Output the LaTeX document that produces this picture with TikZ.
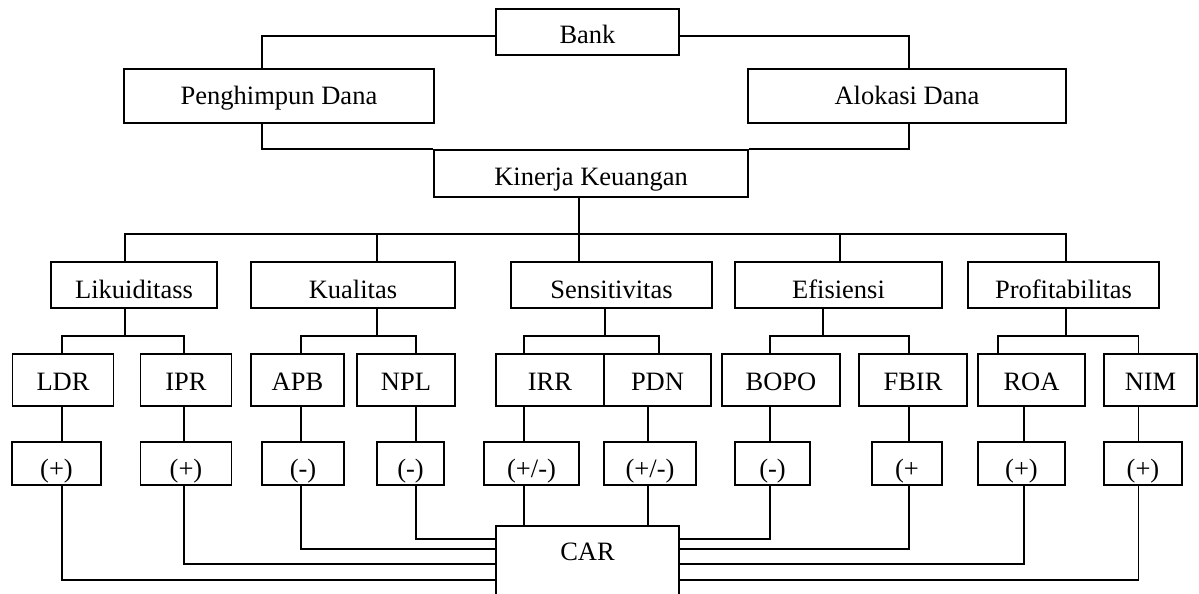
\documentclass[tikz,border=0pt]{standalone}
\usepackage{fontspec}
\setmainfont{Liberation Serif}
\tikzset{
  box/.style={draw, inner sep=0pt, text depth=0pt},
  topbox/.style={box, minimum height=54pt, text height=16pt},
  catbox/.style={box, minimum height=46pt, text height=26pt},
  indbox/.style={box, minimum height=52pt, text height=20pt},
  sgnbox/.style={box, minimum height=43pt, text height=27pt}
}
\begin{document}
\begin{tikzpicture}[x=1pt, y=-1pt, line width=1.8pt, font=\fontsize{26.5}{30}\selectfont]
            \useasboundingbox (0,0) rectangle (1199,594);
            \node[box, minimum width=183pt, minimum height=46pt, text height=24pt] (bank) at (587.5,32) {Bank};
            \node[topbox, minimum width=310pt] (peng) at (279,96) {Penghimpun Dana};
            \node[topbox, minimum width=318pt] (alok) at (907,96) {Alokasi Dana};
            \node[box, minimum width=314pt, minimum height=47pt, text height=23pt] (kin) at (591,173.5) {Kinerja Keuangan};
            \draw ([yshift=-4pt]bank.west) -| ([xshift=-17pt]peng.north);
            \draw ([yshift=-4pt]bank.east) -| ([xshift=2pt]alok.north);
            \draw ([xshift=-17pt]peng.south) |- (kin.north west);
            \draw ([xshift=2pt]alok.south) |- (kin.north east);
            % kelompok rasio
            \node[catbox, minimum width=166pt] (lik) at (134,285) {Likuiditass};
            \node[catbox, minimum width=204pt] (kual) at (353,285) {Kualitas};
            \node[catbox, minimum width=201pt] (sens) at (611.5,285) {Sensitivitas};
            \node[catbox, minimum width=207pt] (efis) at (838.5,285) {Efisiensi};
            \node[catbox, minimum width=191pt] (prof) at (1063.5,285) {Profitabilitas};
            \draw ([xshift=-12pt]kin.south) -- ++(0,36) coordinate (bus);
            \foreach \n/\dx in {lik/-9, kual/24, sens/-32.5, efis/1.5, prof/2.5}
                \draw ([xshift=\dx pt]\n.north) |- (bus);
            % rasio
            \node[indbox, minimum width=101pt] (ldr) at (63,380) {LDR};
            \node[indbox, minimum width=91pt] (ipr) at (186,380) {IPR};
            \node[indbox, minimum width=93pt] (apb) at (297.5,380) {APB};
            \node[indbox, minimum width=98pt] (npl) at (406,380) {NPL};
            \node[indbox, minimum width=108pt] (irr) at (550,380) {IRR};
            \node[indbox, minimum width=107pt] (pdn) at (657.5,380) {PDN};
            \node[indbox, minimum width=118pt] (bopo) at (781,380) {BOPO};
            \node[indbox, minimum width=108pt] (fbir) at (913,380) {FBIR};
            \node[indbox, minimum width=107pt] (roa) at (1031.5,380) {ROA};
            \node[indbox, minimum width=93pt] (nim) at (1150.5,380) {NIM};
            \foreach \p/\px/\a/\ax/\b/\bx in {lik/-9/ldr/-1/ipr/-2, kual/24/apb/3.5/npl/10,
                sens/-6.5/irr/-26/pdn/1.5, efis/-15.5/bopo/-11/fbir/-4, prof/2.5/roa/-33.5/nim/-12}
            {
                \draw ([xshift=\px pt]\p.south) -- ++(0,27) coordinate (j);
                \draw ([xshift=\ax pt]\a.north) |- (j) -| ([xshift=\bx pt]\b.north);
            }
            % arah pengaruh
            \node[sgnbox, minimum width=89pt] (sldr) at (56.5,463.5) {(+)};
            \node[sgnbox, minimum width=91pt] (sipr) at (186,463.5) {(+)};
            \node[sgnbox, minimum width=82pt] (sapb) at (303,463.5) {(-)};
            \node[sgnbox, minimum width=67pt] (snpl) at (410.5,463.5) {(-)};
            \node[sgnbox, minimum width=95pt] (sirr) at (531.5,463.5) {(+/-)};
            \node[sgnbox, minimum width=92pt] (spdn) at (650,463.5) {(+/-)};
            \node[sgnbox, minimum width=75pt] (sbopo) at (772.5,463.5) {(-)};
            \node[sgnbox, minimum width=70pt] (sfbir) at (907,463.5) {(+};
            \node[sgnbox, minimum width=87pt] (sroa) at (1021.5,463.5) {(+)};
            \node[sgnbox, minimum width=78pt] (snim) at (1143,463.5) {(+)};
            \foreach \i/\dx in {ldr/-1, ipr/-2, apb/3.5, npl/10, irr/-26, pdn/-9.5, bopo/-11, fbir/-4, roa/-7.5, nim/-12}
                \draw ([xshift=\dx pt]\i.south) -- ([xshift=\dx pt]\i.south |- s\i.north);
            % CAR
            \node[box, anchor=north, minimum width=183pt, inner ysep=17pt, text height=18pt, text depth=28pt] (car) at (587.5,525) {CAR};
            \foreach \i/\dx/\dy in {ldr/-1/-14, ipr/-2/2, apb/3.5/17, npl/10/27}
                \draw ([xshift=\dx pt]\i.south |- s\i.south) |- ([yshift=\dy pt]car.west);
            \foreach \i/\dx/\dy in {bopo/-11/27, fbir/-4/17, roa/-7.5/2, nim/-12/-14}
                \draw ([xshift=\dx pt]\i.south |- s\i.south) |- ([yshift=\dy pt]car.east);
            \foreach \i/\dx in {irr/-26, pdn/-9.5}
                \draw ([xshift=\dx pt]\i.south |- s\i.south) -- ([xshift=\dx pt]\i.south |- car.north);
        \end{tikzpicture}
\end{document}
